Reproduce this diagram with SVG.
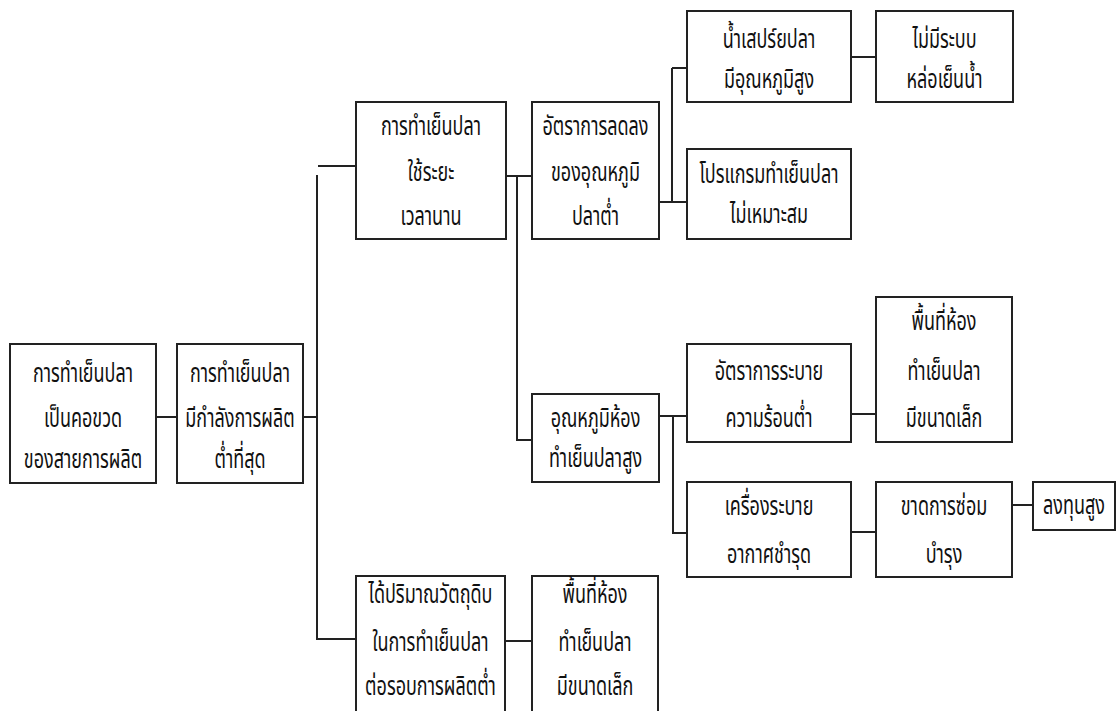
<svg xmlns="http://www.w3.org/2000/svg" width="1117" height="711" viewBox="0 0 1117 711">
<style>
.box{fill:#fff;stroke:#222;stroke-width:2}
.ln{fill:none;stroke:#222;stroke-width:2}
text{font-family:"Noto Sans Thai","Noto Sans","DejaVu Sans",sans-serif;font-size:18px;fill:#111;text-anchor:middle}
</style>
<rect width="1117" height="711" fill="#fff"/>
<g id="connectors">
<path class="ln" d="M156 417H177"/>
<path class="ln" d="M303 417H317"/>
<path class="ln" d="M317 175V639H356"/>
<path class="ln" d="M318 166H356"/>
<path class="ln" d="M506 176H532"/>
<path class="ln" d="M517 176V440H532"/>
<path class="ln" d="M659 202H687"/>
<path class="ln" d="M672 68V202"/>
<path class="ln" d="M672 68H687"/>
<path class="ln" d="M851 57H876"/>
<path class="ln" d="M659 416H687"/>
<path class="ln" d="M673 416V533H687"/>
<path class="ln" d="M851 414H876"/>
<path class="ln" d="M851 532H876"/>
<path class="ln" d="M1012 505H1033"/>
<path class="ln" d="M505 641H532"/>
</g>
<g id="n1"><rect class="box" x="10" y="344" width="146" height="139"/><text transform="translate(83 382) scale(1 1.5)">การทำเย็นปลา</text><text transform="translate(83 427) scale(1 1.5)">เป็นคอขวด</text><text transform="translate(83 468) scale(1 1.5)">ของสายการผลิต</text></g>
<g id="n2"><rect class="box" x="177" y="344" width="126" height="139"/><text transform="translate(240 382) scale(1 1.5)">การทำเย็นปลา</text><text transform="translate(240 427) scale(1 1.5)">มีกำลังการผลิต</text><text transform="translate(240 468) scale(1 1.5)">ต่ำที่สุด</text></g>
<g id="n3"><rect class="box" x="356" y="102" width="150" height="137"/><text transform="translate(431 135) scale(1 1.5)">การทำเย็นปลา</text><text transform="translate(431 181) scale(1 1.5)">ใช้ระยะ</text><text transform="translate(431 225) scale(1 1.5)">เวลานาน</text></g>
<g id="n4"><rect class="box" x="532" y="102" width="127" height="137"/><text transform="translate(595.5 135) scale(1 1.5)">อัตราการลดลง</text><text transform="translate(595.5 181) scale(1 1.5)">ของอุณหภูมิ</text><text transform="translate(595.5 225) scale(1 1.5)">ปลาต่ำ</text></g>
<g id="n5"><rect class="box" x="687" y="11" width="164" height="91"/><text transform="translate(769 48) scale(1 1.5)">น้ำเสปร์ยปลา</text><text transform="translate(769 88) scale(1 1.5)">มีอุณหภูมิสูง</text></g>
<g id="n6"><rect class="box" x="876" y="11" width="137" height="91"/><text transform="translate(944.5 48) scale(1 1.5)">ไม่มีระบบ</text><text transform="translate(944.5 88) scale(1 1.5)">หล่อเย็นน้ำ</text></g>
<g id="n7"><rect class="box" x="687" y="149" width="164" height="90"/><text transform="translate(769 183) scale(1 1.5)">โปรแกรมทำเย็นปลา</text><text transform="translate(769 223) scale(1 1.5)">ไม่เหมาะสม</text></g>
<g id="n8"><rect class="box" x="532" y="394" width="127" height="88"/><text transform="translate(595.5 427) scale(1 1.5)">อุณหภูมิห้อง</text><text transform="translate(595.5 467) scale(1 1.5)">ทำเย็นปลาสูง</text></g>
<g id="n9"><rect class="box" x="687" y="344" width="164" height="98"/><text transform="translate(769 380) scale(1 1.5)">อัตราการระบาย</text><text transform="translate(769 427) scale(1 1.5)">ความร้อนต่ำ</text></g>
<g id="n10"><rect class="box" x="687" y="482" width="164" height="95"/><text transform="translate(769 515) scale(1 1.5)">เครื่องระบาย</text><text transform="translate(769 563) scale(1 1.5)">อากาศชำรุด</text></g>
<g id="n11"><rect class="box" x="876" y="297" width="136" height="145"/><text transform="translate(944 330) scale(1 1.5)">พื้นที่ห้อง</text><text transform="translate(944 380) scale(1 1.5)">ทำเย็นปลา</text><text transform="translate(944 427) scale(1 1.5)">มีขนาดเล็ก</text></g>
<g id="n12"><rect class="box" x="876" y="482" width="136" height="95"/><text transform="translate(944 515) scale(1 1.5)">ขาดการซ่อม</text><text transform="translate(944 563) scale(1 1.5)">บำรุง</text></g>
<g id="n13"><rect class="box" x="1033" y="482" width="82" height="48"/><text transform="translate(1074 514) scale(1 1.5)">ลงทุนสูง</text></g>
<g id="n14"><rect class="box" x="356" y="576" width="149" height="150"/><text transform="translate(430.5 603) scale(1 1.5)">ได้ปริมาณวัตถุดิบ</text><text transform="translate(430.5 651) scale(1 1.5)">ในการทำเย็นปลา</text><text transform="translate(430.5 695) scale(1 1.5)">ต่อรอบการผลิตต่ำ</text></g>
<g id="n15"><rect class="box" x="532" y="576" width="126" height="150"/><text transform="translate(595 603) scale(1 1.5)">พื้นที่ห้อง</text><text transform="translate(595 651) scale(1 1.5)">ทำเย็นปลา</text><text transform="translate(595 695) scale(1 1.5)">มีขนาดเล็ก</text></g>
</svg>
